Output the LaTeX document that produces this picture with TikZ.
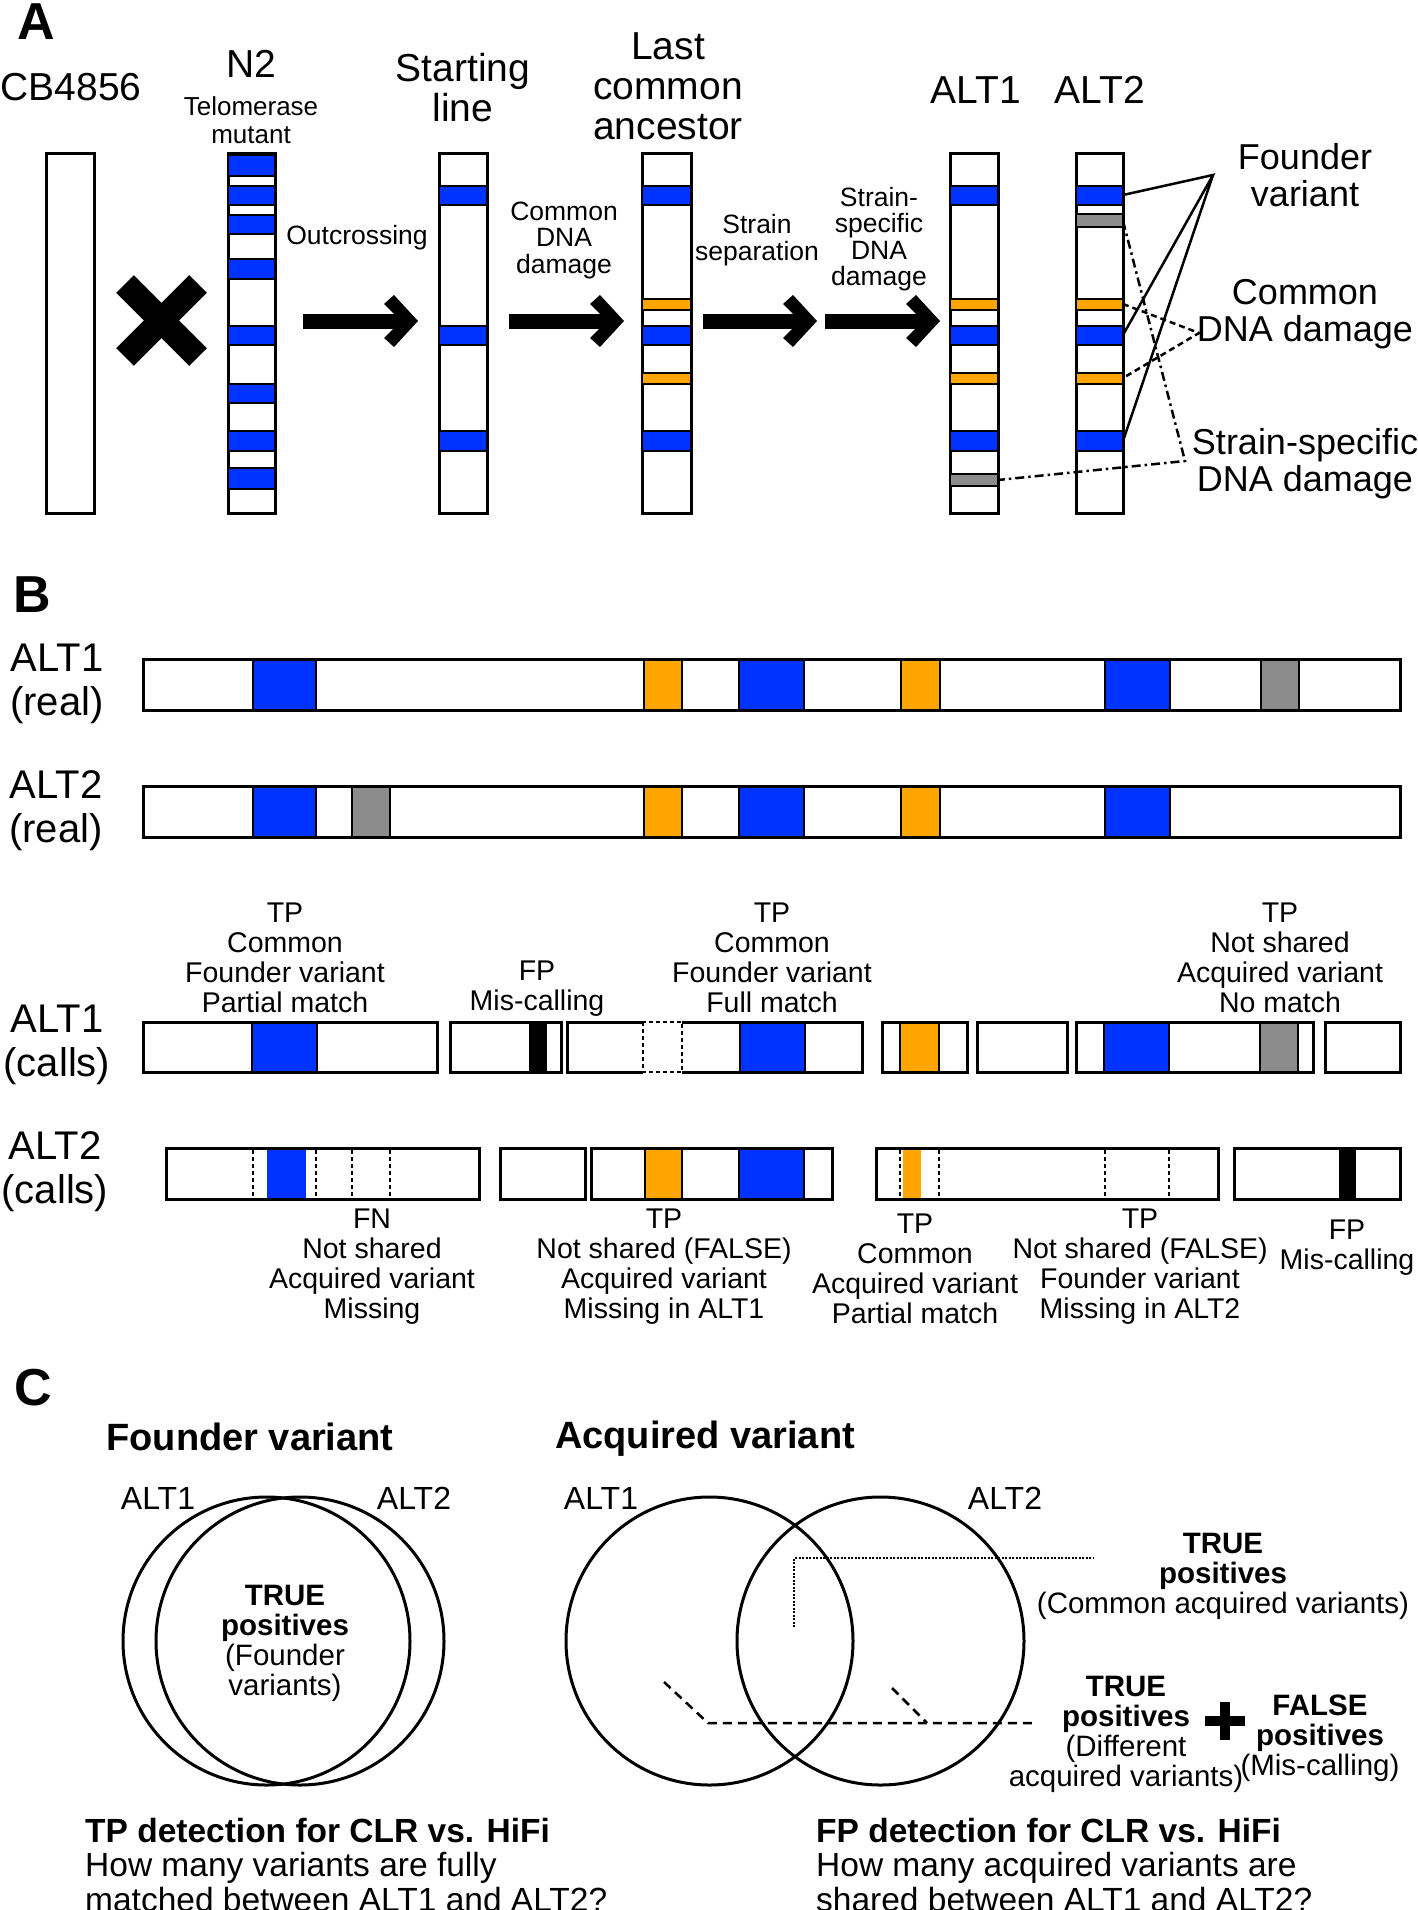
\documentclass[tikz,border=0pt]{standalone}
\usepackage{fontspec}
\setmainfont{Liberation Sans}
\definecolor{vblue}{RGB}{0,51,255}
\definecolor{vorange}{RGB}{255,165,0}
\definecolor{vgrey}{RGB}{140,140,140}
\newcommand\fsz[2]{\fontsize{#1}{#2}\selectfont}
\tikzset{
  chrom/.style={draw=black, line width=3, fill=white},
  bandline/.style={draw=black, line width=2.5},
  txt/.style={inner sep=0, align=center},
  bigtxt/.style={txt, font=\fsz{39}{40}},
  smalltxt/.style={txt, font=\fsz{26.5}{26.5}},
  sidetxt/.style={txt, font=\fsz{36}{37}},
  rowtxt/.style={txt, font=\fsz{40}{44}},
  btxt/.style={txt, font=\fsz{28.5}{30}},
  vtxt/.style={txt, font=\fsz{29.5}{30}},
  letter/.style={inner sep=0, font=\fsz{52}{52}\bfseries},
  dashv/.style={line width=2.5, dash pattern=on 5pt off 4pt},
  calldash/.style={line width=2.5, dash pattern=on 4pt off 3pt},
}
\begin{document}
\begin{tikzpicture}[x=1pt,y=-1pt]
\useasboundingbox[fill=white] (0,0) rectangle (1417,1910);

% ================= PANEL A =================
\node[letter] (labA) at (36,22) {A};

% chromosomes
\foreach \xa/\xb in {46/94, 228/275, 439/487, 642/691, 950/998, 1076/1123}
  \draw[chrom] (\xa,154) rectangle (\xb,513);

% N2 bands
\foreach \ya/\yb in {155/176, 186/205, 215/234, 259/279, 326/345, 384/403, 431/451, 468/489}
  \draw[bandline, fill=vblue] (228,\ya) rectangle (275,\yb);
% Starting line bands
\foreach \ya/\yb in {186/205, 326/345, 431/451}
  \draw[bandline, fill=vblue] (439,\ya) rectangle (487,\yb);
% LCA, ALT1, ALT2 common bands
\foreach \xa/\xb in {642/691, 950/998, 1076/1123}{
  \foreach \ya/\yb in {186/205, 326/345, 431/451}
    \draw[bandline, fill=vblue] (\xa,\ya) rectangle (\xb,\yb);
  \foreach \ya/\yb in {299/310, 373/384}
    \draw[bandline, fill=vorange] (\xa,\ya) rectangle (\xb,\yb);
}
\draw[bandline, fill=vgrey] (950,474) rectangle (998,486);
\draw[bandline, fill=vgrey] (1076,214) rectangle (1123,227);

% cross
\draw[line width=25] (125,284) -- (198,357);
\draw[line width=25] (198,284) -- (125,357);

% arrows
\foreach \s/\t in {303/418, 509/624, 703/817, 825/940}{
  \fill (\s,313.5) rectangle (\t-12,328.5);
  \fill (\t-24,295) -- (\t,321) -- (\t-24,347) -- (\t-34,338) -- (\t-17,321) -- (\t-34,304) -- cycle;
}

% titles
\node[bigtxt] (tCB) at (71,87) {CB4856};
\node[bigtxt] (tN2) at (251,64) {N2};
\node[txt, font=\fsz{26}{28}] (tTel) at (251,120) {Telomerase\\mutant};
\node[bigtxt] (tSL) at (463,88) {Starting\\line};
\node[bigtxt] (tLCA) at (668,86) {Last\\common\\ancestor};
\node[bigtxt] (tALT1) at (976,90) {ALT1};
\node[bigtxt] (tALT2) at (1100,90) {ALT2};
\node[smalltxt] (tOut) at (357,238) {Outcrossing};
\node[smalltxt] (tCDD) at (564,240) {Common\\DNA\\damage};
\node[smalltxt] (tSS) at (757,240) {Strain\\separation};
\node[smalltxt] (tSSD) at (879,239) {Strain-\\specific\\DNA\\damage};

% side labels
\node[sidetxt] (sFV) at (1305,175) {Founder\\variant};
\node[sidetxt] (sCD) at (1305,314) {Common\\DNA damage};
\node[sidetxt] (sSD) at (1305,464) {Strain-specific\\DNA damage};

% connector points
\coordinate (fvApex) at (1213,175);
\coordinate (cdApex) at (1199,333);
\coordinate (sdCorner) at (1185,461);
\coordinate (b2a) at (1123,195);
\coordinate (b2b) at (1123,335);
\coordinate (b2c) at (1123,441);
\coordinate (o2a) at (1123,304);
\coordinate (o2b) at (1123,378);
\coordinate (g2) at (1123,221);
\coordinate (g1) at (998,480);

\draw[line width=2.5] (b2a) -- (fvApex) -- (b2b);
\draw[line width=2.5] (fvApex) -- (b2c);
\draw[line width=2.5, dash pattern=on 6pt off 4pt] (o2a) -- (cdApex) -- (o2b);
\draw[line width=2.5, dash pattern=on 9pt off 4pt on 2.5pt off 4pt] (g2) -- (sdCorner) -- (g1);

% ================= PANEL B =================
\node[letter] (labB) at (32,595) {B};
\node[rowtxt] (rA1) at (57,684) {ALT1\\(real)};
\node[rowtxt] (rA2) at (56,811) {ALT2\\(real)};
\node[rowtxt] (cA1) at (57,1045) {ALT1\\(calls)};
\node[rowtxt] (cA2) at (55,1172) {ALT2\\(calls)};

% real ALT1
\fill[white] (143,659) rectangle (1400,710);
\foreach \xa/\xb/\c in {253/316/vblue, 644/682/vorange, 739/804/vblue, 901/940/vorange, 1105/1170/vblue, 1261/1299/vgrey}
  \draw[bandline, fill=\c] (\xa,659) rectangle (\xb,710);
\draw[line width=3] (143,659) rectangle (1400,710);
% real ALT2
\fill[white] (143,786) rectangle (1400,837);
\foreach \xa/\xb/\c in {253/316/vblue, 352/390/vgrey, 644/682/vorange, 739/804/vblue, 901/940/vorange, 1105/1170/vblue}
  \draw[bandline, fill=\c] (\xa,786) rectangle (\xb,837);
\draw[line width=3] (143,786) rectangle (1400,837);

% calls ALT1  (y 1022-1072)
\draw[bandline, fill=vblue] (252,1022) rectangle (317,1072);
\draw[line width=3] (143,1022) rectangle (437,1072);
\draw[bandline, fill=black] (530,1022) rectangle (546,1072);
\draw[line width=3] (450,1022) rectangle (561,1072);
\draw[bandline, fill=vblue] (740,1022) rectangle (805,1072);
\draw[line width=3] (643,1022) -- (567,1022) -- (567,1072) -- (643,1072);
\draw[line width=3] (682,1022) -- (862,1022) -- (862,1072) -- (682,1072);
\draw[calldash] (643,1022) rectangle (682,1072);
\draw[bandline, fill=vorange] (900,1022) rectangle (939,1072);
\draw[line width=3] (882,1022) rectangle (967,1072);
\draw[line width=3] (977,1022) rectangle (1067,1072);
\draw[bandline, fill=vblue] (1104,1022) rectangle (1169,1072);
\draw[bandline, fill=vgrey] (1260,1022) rectangle (1298,1072);
\draw[line width=3] (1076,1022) rectangle (1313,1072);
\draw[line width=3] (1325,1022) rectangle (1400,1072);

% calls ALT2 (y 1148-1199)
\fill[vblue] (267,1148) rectangle (306,1199);
\foreach \x in {253,316,352,390}
  \draw[calldash] (\x,1150) -- (\x,1197);
\draw[line width=3] (166,1148) rectangle (479,1199);
\draw[line width=3] (500,1148) rectangle (585,1199);
\draw[bandline, fill=vorange] (645,1148) rectangle (682,1199);
\draw[bandline, fill=vblue] (739,1148) rectangle (804,1199);
\draw[line width=3] (591,1148) rectangle (832,1199);
\fill[vorange] (903,1148) rectangle (921,1199);
\foreach \x in {900,939,1105,1169}
  \draw[calldash] (\x,1150) -- (\x,1197);
\draw[line width=3] (876,1148) rectangle (1218,1199);
\fill[black] (1339,1148) rectangle (1356,1199);
\draw[line width=3] (1234,1148) rectangle (1400,1199);

% labels above ALT1 calls
\node[btxt] (l1) at (285,958) {TP\\Common\\Founder variant\\Partial match};
\node[btxt] (l2) at (537,989) {FP\\Mis-calling};
\node[btxt] (l3) at (772,958) {TP\\Common\\Founder variant\\Full match};
\node[btxt] (l4) at (1280,958) {TP\\Not shared\\Acquired variant\\No match};
% labels below ALT2 calls
\node[btxt] (m1) at (372,1267) {FN\\Not shared\\Acquired variant\\Missing};
\node[btxt] (m2) at (664,1267) {TP\\Not shared (FALSE)\\Acquired variant\\Missing in ALT1};
\node[btxt] (m3) at (915,1269) {TP\\Common\\Acquired variant\\Partial match};
\node[btxt] (m4) at (1140,1267) {TP\\Not shared (FALSE)\\Founder variant\\Missing in ALT2};
\node[btxt] (m5) at (1347,1248) {FP\\Mis-calling};

% ================= PANEL C =================
\node[letter] (labC) at (33,1388) {C};
\node[txt, font=\fsz{38}{40}\bfseries] (hFV) at (250,1437) {Founder variant};
\node[txt, font=\fsz{38}{40}\bfseries] (hAV) at (705,1439) {Acquired variant};

% founder venn
\draw[line width=3] (266.5,1641) ellipse [x radius=143.5, y radius=144];
\draw[line width=3] (300,1641) ellipse [x radius=144, y radius=144];
\node[txt, font=\fsz{32}{32}] (fA1) at (158,1498) {ALT1};
\node[txt, font=\fsz{32}{32}] (fA2) at (414,1498) {ALT2};
\node[vtxt] (fTP) at (285,1643) {\textbf{TRUE}\\\textbf{positives}\\(Founder\\variants)};

% acquired venn
\draw[line width=3] (709.5,1641) ellipse [x radius=143.5, y radius=144];
\draw[line width=3] (880.5,1641) ellipse [x radius=143.5, y radius=144];
\node[txt, font=\fsz{32}{32}] (aA1) at (601,1498) {ALT1};
\node[txt, font=\fsz{32}{32}] (aA2) at (1005,1498) {ALT2};

\coordinate (dotS) at (794,1627);
\coordinate (dotC) at (794,1558);
\coordinate (dotE) at (1093,1558);
\draw[line width=2.5, dash pattern=on 2pt off 1.5pt] (dotS) -- (dotC) -- (dotE);
\node[vtxt] (aTP1) at (1223,1576) {\textbf{TRUE}\\\textbf{positives}\\(Common acquired variants)};

\coordinate (dA) at (664,1682);
\coordinate (dB) at (708,1723);
\coordinate (dC) at (1032,1723);
\coordinate (dD) at (892,1688);
\coordinate (dE) at (927,1723);
\draw[line width=2.5, dash pattern=on 9pt off 6pt] (dA) -- (dB) -- (dC);
\draw[line width=2.5, dash pattern=on 9pt off 6pt] (dD) -- (dE);

\node[vtxt] (aTP2) at (1126,1734) {\textbf{TRUE}\\\textbf{positives}\\(Different\\acquired variants)};
\node[vtxt] (aFP) at (1320,1738) {\textbf{FALSE}\\\textbf{positives}\\(Mis-calling)};
\fill (1205,1716) rectangle (1245,1726);
\fill (1220,1702) rectangle (1230,1740);

% bottom texts
\node[inner sep=0, align=left, anchor=north west, font=\fsz{33.5}{34.5}] (qTP) at (85,1818)
  {\textbf{TP detection for CLR vs. HiFi}\\How many variants are fully\\matched between ALT1 and ALT2?};
\node[inner sep=0, align=left, anchor=north west, font=\fsz{33.5}{34.5}] (qFP) at (816,1818)
  {\textbf{FP detection for CLR vs. HiFi}\\How many acquired variants are\\shared between ALT1 and ALT2?};
\end{tikzpicture}
\end{document}
